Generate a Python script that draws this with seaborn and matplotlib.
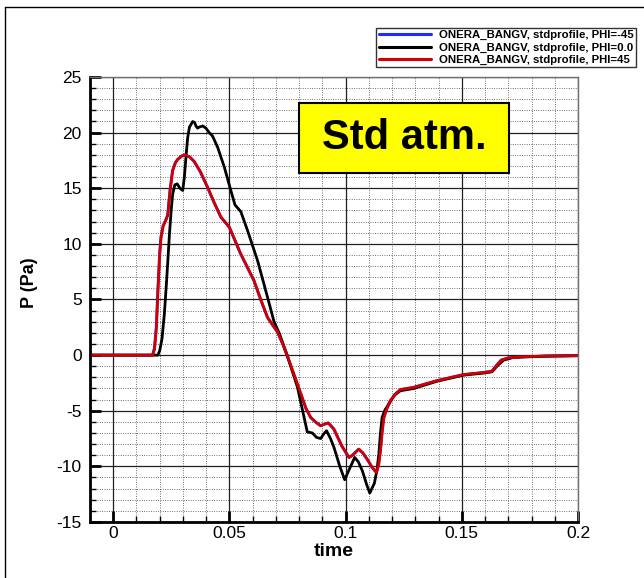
import numpy as np
import pandas as pd
import matplotlib
matplotlib.use("Agg")
import matplotlib.pyplot as plt
from matplotlib.lines import Line2D
from matplotlib.patches import Rectangle
from matplotlib.ticker import MultipleLocator
import seaborn as sns

# ---- signatures at ground, standard atmosphere ----
t_phi_45 = [-0.01, 0.0170, 0.0178, 0.0186, 0.0192, 0.0200, 0.0206, 0.0215, 0.0228, 0.0235,
            0.0245, 0.0256, 0.0268, 0.0278, 0.0295, 0.0310, 0.0330, 0.0349, 0.0375, 0.0406,
            0.0435, 0.0464, 0.0480, 0.0500, 0.0549, 0.0606, 0.0635, 0.0664, 0.0690, 0.0707,
            0.0730, 0.0750, 0.0793, 0.0830, 0.0850, 0.0870, 0.0893, 0.0910, 0.0926, 0.0950,
            0.0985, 0.1015, 0.1030, 0.1057, 0.1075, 0.1093, 0.1115, 0.1133, 0.1143, 0.1150,
            0.1158, 0.1165, 0.1178, 0.1193, 0.1215, 0.1236, 0.1293, 0.1393, 0.1508, 0.1600,
            0.1630, 0.1651, 0.1670, 0.1700, 0.1760, 0.1860, 0.2000]
p_phi_45 = [0.0, 0.0, 0.6, 2.5, 5.5, 9.0, 10.6, 11.6, 12.2, 12.6,
            14.8, 16.6, 17.3, 17.6, 17.9, 18.0, 17.8, 17.4, 16.5, 15.1,
            13.7, 12.4, 12.0, 11.5, 9.1, 6.7, 5.0, 3.4, 2.6, 2.1,
            1.0, -0.1, -2.6, -4.8, -5.6, -6.0, -6.35, -6.2, -6.1, -6.65,
            -8.2, -9.2, -9.0, -8.45, -8.8, -9.35, -10.1, -10.55, -9.8, -8.6,
            -6.8, -5.6, -4.8, -4.1, -3.5, -3.1, -2.9, -2.3, -1.75, -1.55,
            -1.45, -0.9, -0.45, -0.25, -0.15, -0.08, -0.05]

t_phi_m45 = [-0.01, 0.0169, 0.0177, 0.0185, 0.0191, 0.0199, 0.0205, 0.0214, 0.0227, 0.0234,
             0.0244, 0.0255, 0.0267, 0.0277, 0.0294, 0.0309, 0.0329, 0.0348, 0.0374, 0.0405,
             0.0434, 0.0463, 0.0479, 0.0499, 0.0548, 0.0605, 0.0634, 0.0663, 0.0689, 0.0706,
             0.0729, 0.0749, 0.0792, 0.0829, 0.0849, 0.0869, 0.0892, 0.0909, 0.0925, 0.0949,
             0.0984, 0.1014, 0.1029, 0.1056, 0.1074, 0.1092, 0.1114, 0.1132, 0.1142, 0.1149,
             0.1157, 0.1164, 0.1177, 0.1192, 0.1214, 0.1235, 0.1292, 0.1392, 0.1507, 0.1599,
             0.1629, 0.1650, 0.1669, 0.1699, 0.1759, 0.1859, 0.2000]
p_phi_m45 = [0.0, 0.0, 0.6, 2.5, 5.5, 9.0, 10.6, 11.6, 12.2, 12.6,
             14.8, 16.6, 17.3, 17.6, 17.9, 18.0, 17.8, 17.4, 16.5, 15.1,
             13.7, 12.4, 12.0, 11.5, 9.1, 6.7, 5.0, 3.4, 2.6, 2.1,
             1.0, -0.1, -2.6, -4.8, -5.6, -6.0, -6.35, -6.2, -6.1, -6.65,
             -8.2, -9.2, -9.0, -8.45, -8.8, -9.35, -10.1, -10.55, -9.8, -8.6,
             -6.8, -5.6, -4.8, -4.1, -3.5, -3.1, -2.9, -2.3, -1.75, -1.55,
             -1.45, -0.9, -0.45, -0.25, -0.15, -0.08, -0.05]

t_phi_0 = [-0.01, 0.0192, 0.0200, 0.0210, 0.0220, 0.0230, 0.0242, 0.0250, 0.0256, 0.0265,
           0.0275, 0.0287, 0.0299, 0.0306, 0.0313, 0.0320, 0.0328, 0.0342, 0.0350, 0.0356,
           0.0363, 0.0370, 0.0385, 0.0399, 0.0413, 0.0427, 0.0449, 0.0478, 0.0506, 0.0524,
           0.0549, 0.0578, 0.0621, 0.0664, 0.0692, 0.0714, 0.0750, 0.0793, 0.0815, 0.0835,
           0.0857, 0.0875, 0.0893, 0.0905, 0.0918, 0.0935, 0.0950, 0.0975, 0.0996, 0.1015,
           0.1039, 0.1055, 0.1072, 0.1090, 0.1104, 0.1124, 0.1135, 0.1143, 0.1150, 0.1157,
           0.1170, 0.1186, 0.1210, 0.1236, 0.1293, 0.1393, 0.1508, 0.1600, 0.1630, 0.1651,
           0.1680, 0.1723, 0.1860, 0.2000]
p_phi_0 = [0.0, 0.0, 0.4, 1.5, 3.7, 6.8, 10.9, 13.2, 14.5, 15.3,
           15.4, 15.0, 14.8, 16.0, 17.8, 19.5, 20.5, 21.0, 20.9, 20.6,
           20.4, 20.5, 20.6, 20.4, 20.0, 19.7, 18.7, 16.9, 14.8, 13.5,
           12.9, 11.2, 8.5, 5.2, 3.0, 2.0, -0.1, -2.9, -5.0, -6.9,
           -7.0, -7.4, -7.5, -7.1, -6.8, -7.5, -8.3, -10.0, -11.2, -10.3,
           -9.2, -9.6, -10.4, -11.6, -12.4, -11.5, -10.3, -8.9, -7.0, -5.6,
           -4.9, -4.4, -3.6, -3.2, -3.0, -2.35, -1.8, -1.6, -1.5, -1.0,
           -0.45, -0.2, -0.1, -0.05]

labels = ["ONERA_BANGV, stdprofile, PHI=-45",
          "ONERA_BANGV, stdprofile, PHI=0.0",
          "ONERA_BANGV, stdprofile, PHI=45"]
colors = ["#1f2bff", "#000000", "#d00000"]

x_ticks = [0, 0.05, 0.1, 0.15, 0.2]
x_ticklabels = ["0", "0.05", "0.1", "0.15", "0.2"]
y_ticks = [-15, -10, -5, 0, 5, 10, 15, 20, 25]

frames = []
for lab, t, p in zip(labels, [t_phi_m45, t_phi_0, t_phi_45], [p_phi_m45, p_phi_0, p_phi_45]):
    frames.append(pd.DataFrame({"time": t, "P": p, "case": lab}))
df = pd.concat(frames, ignore_index=True)

sns.set_style("white")
plt.rcParams["font.family"] = ["Liberation Sans", "DejaVu Sans"]
plt.rcParams["axes.unicode_minus"] = False
plt.rcParams["text.color"] = "black"
plt.rcParams["axes.labelcolor"] = "black"
plt.rcParams["xtick.color"] = "black"
plt.rcParams["ytick.color"] = "black"

fig = plt.figure(figsize=(6.44, 5.78), dpi=100)
ax = fig.add_axes([90 / 644, 1 - 522 / 578, 488 / 644, 445 / 578])

sns.lineplot(data=df, x="time", y="P", hue="case", hue_order=labels,
             palette=dict(zip(labels, colors)), estimator=None, sort=False,
             linewidth=2.0, ax=ax, legend=True)

ax.set_xlim(-0.01, 0.2)
ax.set_ylim(-15, 25)
ax.set_xticks(x_ticks)
ax.set_xticklabels(x_ticklabels)
ax.set_yticks(y_ticks)
ax.xaxis.set_minor_locator(MultipleLocator(0.01))
ax.yaxis.set_minor_locator(MultipleLocator(1))

ax.set_axisbelow(True)
ax.grid(which="major", color="#202020", linewidth=0.9, linestyle="-")
ax.grid(which="minor", color="#404040", linewidth=0.6, linestyle=(0, (1, 1.8)))

for side in ("left", "bottom"):
    ax.spines[side].set_color("black")
    ax.spines[side].set_linewidth(2.0)
for side in ("top", "right"):
    ax.spines[side].set_color("#707070")
    ax.spines[side].set_linewidth(1.0)

ax.tick_params(which="major", direction="in", length=8, width=2, color="black",
               labelsize=12.5, labelcolor="black",
               bottom=True, left=True, top=False, right=False)
ax.tick_params(which="minor", direction="in", length=4, width=1, color="black",
               bottom=True, left=True, top=False, right=False)
ax.tick_params(axis="y", which="major", pad=6)
ax.tick_params(axis="x", which="major", pad=3)

ax.set_xlabel("time", fontsize=14, fontweight="bold", labelpad=1, color="black")
ax.set_ylabel("P (Pa)", fontsize=13, fontweight="bold", color="black")
ax.yaxis.set_label_coords(-0.107, 0.537)

# annotation box
ax.add_patch(Rectangle((0.428, 0.784), 0.431, 0.158, transform=ax.transAxes,
                       facecolor="#ffff00", edgecolor="black", linewidth=1.5, zorder=5))
ax.text(0.6435, 0.863, "Std atm.", transform=ax.transAxes, ha="center", va="center",
        fontsize=30, fontweight="bold", color="black", zorder=6)

# legend above the plot, top right
handles, labs = ax.get_legend_handles_labels()
ax.get_legend().remove()
leg = fig.legend(handles, labs, loc="upper right",
                 bbox_to_anchor=(636 / 644, 1 - 28 / 578), bbox_transform=fig.transFigure,
                 prop={"size": 8.2, "weight": "bold"}, frameon=True, fancybox=False,
                 borderpad=0.2, labelspacing=0.2, handlelength=4.6, handletextpad=0.7,
                 borderaxespad=0)
leg.get_frame().set_edgecolor("black")
leg.get_frame().set_linewidth(1.0)
for txt in leg.get_texts():
    txt.set_color("black")
for ln in leg.get_lines():
    ln.set_linewidth(2.2)

# page frame
fig.add_artist(Line2D([5 / 644, 5 / 644], [0, 1 - 7 / 578], color="black", linewidth=1.0))
fig.add_artist(Line2D([5 / 644, 1], [1 - 7 / 578, 1 - 7 / 578], color="black", linewidth=1.0))

fig.savefig("out.png", dpi=100)
